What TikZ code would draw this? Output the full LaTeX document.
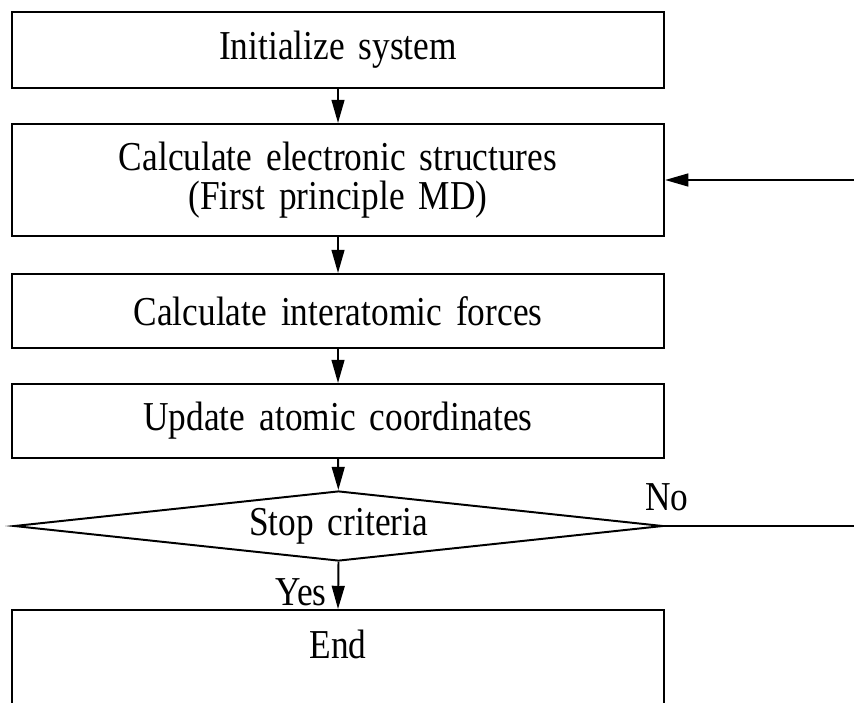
\documentclass[tikz,border=0pt]{standalone}
\usepackage{fontspec}
\setmainfont{Liberation Serif}[FakeStretch=0.86, WordSpace=1.6]
\usetikzlibrary{arrows.meta, shapes.geometric}

\begin{document}
\begin{tikzpicture}[x=0.0125cm, y=-0.0125cm,
        >={Triangle[length=0.29cm, width=0.16cm]},
        every node/.style={font=\fontsize{14.6}{13.6}\selectfont},
        box/.style={draw, line width=0.7pt, minimum width=8.15cm, align=center, inner sep=0pt},
        decision/.style={draw, line width=0.7pt, diamond, aspect=9, inner sep=0pt,
                         minimum width=8.11cm, minimum height=0.875cm},
        flow/.style={->, line width=0.7pt}]

        \clip (0,0) rectangle (854,702);

        \node[box, minimum height=0.95cm]  (init)   at (338,50)    {Initialize system};
        \node[box, minimum height=1.4cm]   (calc)   at (338,180)   {Calculate electronic structures\\(First principle MD)};
        \node[box, minimum height=0.925cm] (forces) at (338,311)   {Calculate interatomic forces};
        \node[box, minimum height=0.925cm] (update) at (338,421)   {Update atomic coordinates};
        \node[decision]                    (stop)   at (338.5,526) {Stop criteria};
        \node[box, minimum height=2cm]     (done)   at (338,690)   {};
        \node                              (endtxt) at (338,644)   {End};

        \coordinate (loopout) at (860,526);
        \coordinate (loopin)  at (860,180);

        \draw[flow] (init) -- (calc);
        \draw[flow] (calc) -- (forces);
        \draw[flow] (forces) -- (update);
        \draw[flow] (update) -- (stop);
        \draw[flow] (stop.south) -- (done.north);
        \draw[line width=0.7pt] (stop.east) -- (loopout);
        \draw[flow] (loopin) -- (calc.east);

        \node (yes) at (301,592) {Yes};
        \node (no)  at (667,497) {No};
      \end{tikzpicture}
\end{document}
